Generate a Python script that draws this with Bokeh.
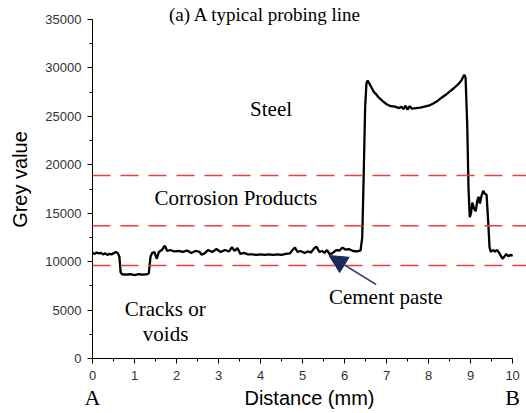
from bokeh.plotting import figure
from bokeh.models import (Range1d, SingleIntervalTicker, FixedTicker, LinearAxis, Span, Label,
                          Arrow, NormalHead)
from bokeh.embed import file_html
from bokeh.resources import INLINE

# ---- data ----
distance = [0.0, 0.05, 0.1, 0.15, 0.2, 0.25, 0.3, 0.35, 0.4, 0.45, 0.5, 0.55, 0.6, 0.64,
            0.67, 0.7, 0.8, 0.9, 1.0, 1.1, 1.2, 1.3, 1.34, 1.38, 1.42, 1.47, 1.53, 1.58,
            1.65, 1.72, 1.78, 1.85, 1.95, 2.05, 2.15, 2.25, 2.35, 2.45, 2.55, 2.6, 2.68,
            2.75, 2.85, 2.95, 3.05, 3.15, 3.25, 3.32, 3.38, 3.45, 3.52, 3.6, 3.7, 3.8,
            3.9, 4.0, 4.1, 4.2, 4.3, 4.4, 4.5, 4.6, 4.7, 4.76, 4.82, 4.88, 4.95, 5.05,
            5.12, 5.2, 5.28, 5.33, 5.4, 5.47, 5.52, 5.58, 5.65, 5.72, 5.8, 5.88, 5.95,
            6.02, 6.1, 6.2, 6.3, 6.38, 6.42, 6.45, 6.49, 6.52, 6.55, 6.6, 6.65, 6.7,
            6.75, 6.8, 6.85, 6.9, 7.0, 7.1, 7.2, 7.3, 7.35, 7.4, 7.45, 7.5, 7.55, 7.6,
            7.7, 7.8, 7.9, 8.0, 8.1, 8.2, 8.3, 8.4, 8.5, 8.6, 8.7, 8.78, 8.85, 8.88,
            8.92, 8.95, 8.98, 9.01, 9.04, 9.08, 9.12, 9.16, 9.19, 9.22, 9.26, 9.3,
            9.34, 9.38, 9.42, 9.45, 9.48, 9.53, 9.58, 9.63, 9.68, 9.72, 9.76, 9.8,
            9.85, 9.9, 9.95, 10.0]
grey = [10900, 10800, 10950, 10850, 10900, 10750, 10850, 10700, 10800, 10750, 10850, 11000, 10900, 10500,
        8900, 8700, 8650, 8700, 8600, 8700, 8650, 8700, 8800, 10500, 10900, 11000, 10300, 11000,
        11200, 11650, 11100, 11200, 11050, 11100, 11000, 11150, 10900, 11100, 11000, 10700, 10900,
        11200, 11000, 11300, 11000, 11200, 11050, 11500, 11100, 11400, 10800, 10900, 10750, 10750,
        10700, 10750, 10700, 10750, 10700, 10750, 10700, 10800, 10850, 11200, 11450, 11000, 11100, 10900,
        11050, 10950, 11400, 11550, 11000, 11100, 10900, 11200, 10750, 10900, 11200, 11150, 11450,
        11250, 11300, 11100, 11050, 11150, 12500, 18000, 26000, 28400, 28700, 28300, 27900, 27500,
        27300, 27000, 26800, 26600, 26250, 26050, 26000, 25850, 26000, 25750, 26100, 25700, 26050, 25800,
        25850, 25900, 26000, 26100, 26300, 26550, 26900, 27200, 27550, 27900, 28300, 28700, 29300, 29000,
        24000, 17500, 14600, 15000, 16100, 15500, 15200, 16300, 16700, 16000, 16800, 17300,
        17000, 16900, 14000, 11500, 11000, 11200, 11050, 11200, 10900, 10600, 10300, 10500,
        10800, 10550, 10700, 10600]
thresholds = [18900, 13700, 9600]
region_labels = ["Steel", "Corrosion Products", "Cracks or", "voids", "Cement paste"]
title_text = "(a) A typical probing line"
end_labels = {0: "A", 10: "B"}

SERIF = "Liberation Serif"
SANS = "Liberation Sans"

# frame reaches the top of the canvas so that the title can sit inside it;
# the axis itself stops at 35000 (px 19)
Y_TOP = 35000 * 358 / 339

p = figure(width=526, height=413, output_backend="svg", toolbar_location=None,
           x_range=Range1d(0, 10.33), y_range=Range1d(0, Y_TOP),
           min_border_left=92, min_border_right=0, min_border_top=0, min_border_bottom=55)
p.outline_line_color = None
p.xgrid.visible = False
p.ygrid.visible = False
p.background_fill_color = "white"

for ax, tk in ((p.xaxis[0], SingleIntervalTicker(interval=1, num_minor_ticks=2)),
               (p.yaxis[0], SingleIntervalTicker(interval=5000, num_minor_ticks=2))):
    ax.ticker = tk
    ax.axis_line_color = "black"
    ax.axis_line_width = 1
    ax.major_tick_line_color = "black"
    ax.minor_tick_line_color = "black"
    ax.major_tick_out = 5
    ax.major_tick_in = 0
    ax.minor_tick_out = 3
    ax.minor_tick_in = 0
    ax.major_label_text_font = SANS
    ax.major_label_text_font_size = "13px"
    ax.major_label_text_color = "#333333"
p.xaxis.bounds = (0, 10)
p.yaxis.bounds = (0, 35000)
p.xaxis.major_label_standoff = 7
p.yaxis.major_label_standoff = 6
p.yaxis.axis_label = "Grey value"
p.yaxis.axis_label_text_font = SANS
p.yaxis.axis_label_text_font_size = "20px"
p.yaxis.axis_label_text_font_style = "normal"
p.yaxis.axis_label_text_color = "black"
p.yaxis.axis_label_standoff = 11

# second bottom axis: end markers A / B and the axis title on the same row
ab = LinearAxis(ticker=FixedTicker(ticks=list(end_labels.keys())),
                major_label_overrides=end_labels)
ab.axis_line_color = None
ab.major_tick_line_color = None
ab.minor_tick_line_color = None
ab.major_tick_out = 0
ab.major_tick_in = 0
ab.major_label_standoff = 2
ab.major_label_text_font = SERIF
ab.major_label_text_font_size = "22px"
ab.major_label_text_color = "black"
ab.axis_label = "Distance (mm)"
ab.axis_label_text_font = SANS
ab.axis_label_text_font_size = "20px"
ab.axis_label_text_font_style = "normal"
ab.axis_label_text_color = "black"
ab.axis_label_standoff = -26
p.add_layout(ab, "below")

for t in thresholds:
    p.add_layout(Span(location=t, dimension="width", line_color="#f03c3c",
                      line_dash="18 10", line_width=1.5))

p.line(distance, grey, line_color="black", line_width=2.3)

def lab(x, y, text, font, size, align="center", baseline="middle"):
    p.add_layout(Label(x=x, y=y, text=text, text_font=font, text_font_size=size,
                       text_align=align, text_baseline=baseline, text_color="black"))

lab(4.25, 25810, region_labels[0], SERIF, "21px")
lab(3.41, 16620, region_labels[1], SERIF, "21px")
lab(1.73, 5160, region_labels[2], SERIF, "21px")
lab(1.74, 2580, region_labels[3], SERIF, "21px")
lab(6.98, 6300, region_labels[4], SERIF, "21px")

# title at the top of the canvas
lab(4.12, 35500, title_text, SERIF, "19px", baseline="middle")

p.add_layout(Arrow(end=NormalHead(size=18, fill_color="#1b2a5c", line_color="#1b2a5c"),
                   x_start=6.75, y_start=7640, x_end=5.63, y_end=10634,
                   line_color="#34457a", line_width=1.5))

open("out.html", "w").write(file_html(p, INLINE))
